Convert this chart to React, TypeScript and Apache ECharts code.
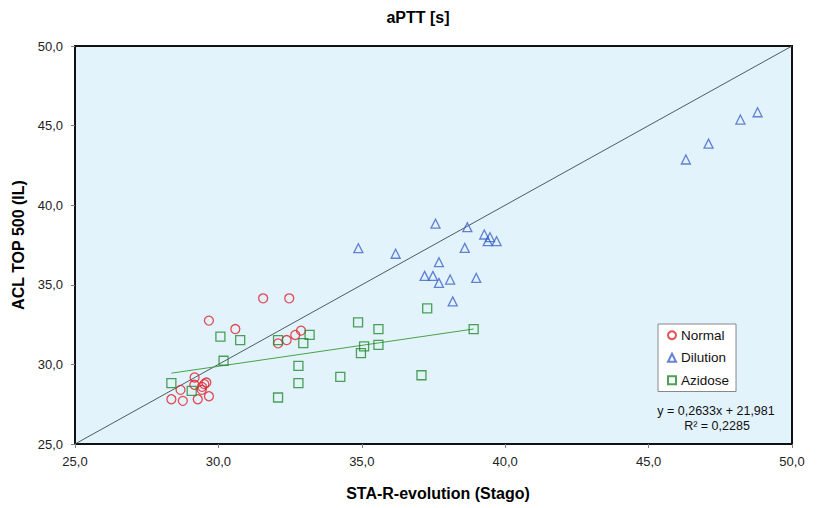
import React, { useEffect, useRef } from "react";
import * as echarts from "echarts";

const normalData: [number, number][] = [
  [28.36, 27.81], [28.76, 27.71], [28.68, 28.4], [29.17, 29.18], [29.16, 28.72],
  [29.28, 27.81], [29.43, 28.59], [29.42, 28.4], [29.51, 28.76], [29.58, 28.86],
  [29.67, 28.0], [29.67, 32.75], [30.59, 32.22], [31.56, 34.15], [32.47, 34.15],
  [32.08, 31.32], [32.38, 31.53], [32.68, 31.85], [32.88, 32.12],
];

const dilutionData: [number, number][] = [
  [34.88, 37.3], [36.18, 36.95], [37.57, 38.84], [38.68, 38.62], [39.27, 38.16],
  [39.47, 37.99], [39.39, 37.74], [39.7, 37.74], [38.59, 37.32], [37.69, 36.42],
  [37.19, 35.56], [37.48, 35.56], [37.69, 35.12], [38.08, 35.33], [38.99, 35.43],
  [38.17, 33.96], [46.3, 42.87], [47.09, 43.87], [48.2, 45.38], [48.8, 45.84],
];

const azidoseData: [number, number][] = [
  [28.36, 28.82], [29.07, 28.34], [30.07, 31.74], [30.18, 30.23], [30.76, 31.53],
  [32.08, 31.53], [32.08, 27.92], [32.79, 29.91], [32.79, 28.82], [32.96, 31.34],
  [33.18, 31.85], [34.25, 29.22], [34.87, 32.64], [35.58, 32.22], [35.58, 31.23],
  [35.08, 31.13], [34.97, 30.71], [37.08, 29.32], [37.28, 33.52], [38.9, 32.22],
];

const trendSlope = 0.2633;
const trendIntercept = 21.981;
const trendLabel = "y = 0,2633x + 21,981";
const r2Label = "R² = 0,2285";

const axisMin = 25;
const axisMax = 50;
const axisInterval = 5;

const titleText = "aPTT [s]";
const xName = "STA-R-evolution (Stago)";
const yName = "ACL TOP 500 (IL)";

const FONT = "'Liberation Sans', Arial, sans-serif";

function fmt(v: number) {
  return v.toFixed(1).replace(".", ",");
}

export default function App() {
  const ref = useRef<HTMLDivElement>(null);

  useEffect(() => {
    if (!ref.current) return;
    const chart = echarts.init(ref.current, null, { renderer: "svg" });

    const azX = azidoseData.map((d) => d[0]);
    const xMinAz = Math.min(...azX);
    const xMaxAz = Math.max(...azX);
    const trendData = [
      [xMinAz, trendSlope * xMinAz + trendIntercept],
      [xMaxAz, trendSlope * xMaxAz + trendIntercept],
    ];

    const axisCommon = {
      type: "value" as const,
      min: axisMin,
      max: axisMax,
      interval: axisInterval,
      axisLine: { show: false },
      axisTick: { show: true, length: 4, lineStyle: { color: "#808080", width: 1 } },
      splitLine: { show: false },
      axisLabel: {
        formatter: (v: number) => fmt(v),
        color: "#222",
        fontSize: 13,
        fontFamily: FONT,
      },
    };

    chart.setOption({
      animation: false,
      backgroundColor: "#ffffff",
      grid: {
        left: 75,
        right: 44,
        top: 46,
        bottom: 64,
        show: true,
        backgroundColor: "#e2f3fc",
        borderColor: "#111",
        borderWidth: 2,
      },
      xAxis: { ...axisCommon, axisLabel: { ...axisCommon.axisLabel, margin: 11 } },
      yAxis: { ...axisCommon, axisLabel: { ...axisCommon.axisLabel, margin: 12 } },
      legend: {
        orient: "vertical",
        left: 658,
        top: 324,
        itemWidth: 8,
        itemHeight: 8,
        itemGap: 8,
        padding: [4, 7, 4, 9],
        backgroundColor: "#ffffff",
        borderColor: "#888",
        borderWidth: 1,
        borderRadius: 0,
        textStyle: { fontSize: 13.5, fontFamily: FONT, color: "#111", lineHeight: 14.5 },
        data: ["Normal", "Dilution", "Azidose"],
      },
      graphic: [
        {
          type: "text",
          left: "center",
          x: 433,
          y: 17,
          style: {
            text: titleText,
            x: 0,
            y: 0,
            font: `bold 16px ${FONT}`,
            fill: "#000",
            textAlign: "center",
            textVerticalAlign: "middle",
          },
        },
        {
          type: "text",
          x: 438,
          y: 493,
          style: {
            text: xName,
            font: `bold 16px ${FONT}`,
            fill: "#000",
            textAlign: "center",
            textVerticalAlign: "middle",
          },
        },
        {
          type: "text",
          x: 18,
          y: 245,
          rotation: Math.PI / 2,
          style: {
            text: yName,
            font: `bold 16px ${FONT}`,
            fill: "#000",
            textAlign: "center",
            textVerticalAlign: "middle",
          },
        },
        {
          type: "text",
          x: 716,
          y: 411,
          style: {
            text: trendLabel,
            font: `12.5px ${FONT}`,
            fill: "#111",
            textAlign: "center",
            textVerticalAlign: "middle",
          },
        },
        {
          type: "text",
          x: 717,
          y: 426,
          style: {
            text: r2Label,
            font: `12.5px ${FONT}`,
            fill: "#111",
            textAlign: "center",
            textVerticalAlign: "middle",
          },
        },
      ],
      series: [
        {
          name: "identity",
          type: "line",
          data: [
            [axisMin, axisMin],
            [axisMax, axisMax],
          ],
          symbol: "none",
          lineStyle: { color: "#4f5a63", width: 1 },
          silent: true,
          z: 1,
        },
        {
          name: "trend",
          type: "line",
          data: trendData,
          symbol: "none",
          lineStyle: { color: "#4aa04a", width: 1 },
          silent: true,
          z: 1,
        },
        {
          name: "Normal",
          type: "scatter",
          data: normalData,
          symbol: "circle",
          symbolSize: 9,
          itemStyle: { color: "transparent", borderColor: "#e0202a", borderWidth: 1.3 },
          z: 3,
        },
        {
          name: "Dilution",
          type: "scatter",
          data: dilutionData,
          symbol: "triangle",
          symbolSize: 9,
          itemStyle: { color: "transparent", borderColor: "#3f63c8", borderWidth: 1.3 },
          z: 3,
        },
        {
          name: "Azidose",
          type: "scatter",
          data: azidoseData,
          symbol: "rect",
          symbolSize: 9,
          itemStyle: { color: "transparent", borderColor: "#238a2e", borderWidth: 1.3 },
          z: 3,
        },
      ],
    });

    return () => chart.dispose();
  }, []);

  return (
    <div
      ref={ref}
      style={{ position: "fixed", left: 0, top: 0, width: 836, height: 508 }}
    />
  );
}
